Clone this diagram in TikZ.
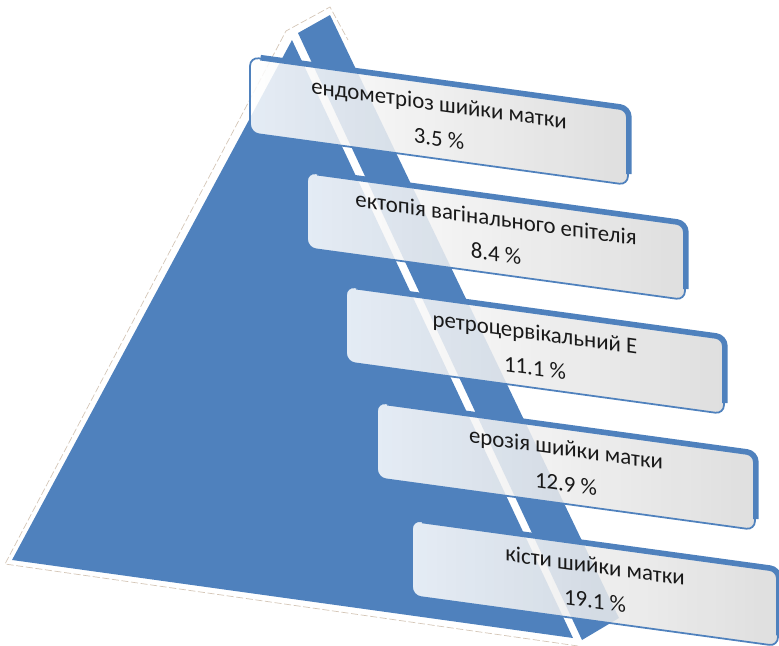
\documentclass[tikz,border=0pt]{standalone}
\usepackage{fontspec}
\setmainfont{Carlito}
\usetikzlibrary{calc}
\definecolor{pyrblue}{HTML}{4F81BD}
\definecolor{boxgray}{HTML}{D9D9D9}
\newcommand{\stagefont}{\fontsize{13}{20}\selectfont}
\tikzstyle{face} = [fill=pyrblue, draw=none]
\tikzstyle{glow} = [draw=orange!25!gray!45, line width=0.4pt, dash pattern=on 4pt off 1.5pt]
\tikzstyle{stagebox} = [rectangle, rounded corners=5pt, minimum width=7.56cm, minimum height=1.52cm, align=center, draw=pyrblue, line width=1pt, left color=white, right color=boxgray, fill opacity=0.85, text opacity=1, text=black!90, yslant=-0.137, font=\stagefont]
\tikzstyle{depth} = [draw=pyrblue, line width=3.2pt, rounded corners=5pt]

\begin{document}
\begin{tikzpicture}[x=0.02cm, y=-0.02cm]
    \useasboundingbox (0,0) rectangle (779,646);

    \draw [glow] (578,646) -- (5,564) -- (286,31) -- (330,7) -- (348,40);
    \fill [face] (292,40) -- (12,560) -- (573,638) -- cycle;
    \fill [face] (298,33) -- (330,15) -- (619,618) -- (582,640) -- cycle;

    \node (box1-stage) [stagebox] at (439,121) {ендометріоз шийки матки\\3.5 \%};
    \node (box2-stage) [stagebox] at (496,236) {ектопія вагінального епітелія\\8.4 \%};
    \node (box3-stage) [stagebox] at (535,350) {ретроцервікальний Е\\11.1 \%};
    \node (box4-stage) [stagebox] at (566,466) {ерозія шийки матки\\12.9 \%};
    \node (box5-stage) [stagebox, minimum width=7.32cm] at (595,583) {кісти шийки матки\\19.1 \%};

    \foreach \boxname in {box1-stage, box2-stage, box3-stage, box4-stage, box5-stage}
        \draw [depth] ($(\boxname.north west)!0.03!(\boxname.north east)$) -- (\boxname.north east) -- ($(\boxname.north east)!0.85!(\boxname.south east)$);
\end{tikzpicture}
\end{document}
